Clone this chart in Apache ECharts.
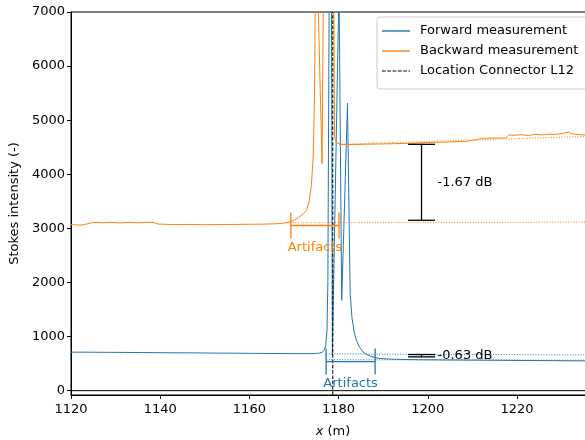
<!DOCTYPE html>
<html><head><meta charset="utf-8">
<script src="https://cdn.jsdelivr.net/npm/echarts@6/dist/echarts.min.js"></script>
<style>html,body{margin:0;padding:0;background:#fff}#c{width:585px;height:440px}</style>
</head><body><div id="c"></div>
<script>
// ---- data ----
const xTicks = [1120, 1140, 1160, 1180, 1200, 1220];
const yTicks = [0, 1000, 2000, 3000, 4000, 5000, 6000, 7000];

const forwardX = [1120, 1124, 1128, 1132, 1136, 1140, 1144, 1148, 1152, 1156, 1160, 1164, 1168, 1172, 1174, 1175.5, 1176.3, 1176.8, 1177.1, 1177.4, 1177.6, 1177.9, 1178.4, 1178.6, 1180.1, 1180.4, 1180.7, 1182.0, 1182.6, 1183.0, 1183.5, 1184.0, 1184.7, 1185.5, 1186.3, 1187.5, 1189, 1191, 1194, 1198, 1204, 1210, 1216, 1222, 1228, 1234, 1237.5];
const forwardY = [712, 711, 709, 707, 705, 702, 700, 698, 695, 693, 690, 688, 686, 684, 685, 692, 710, 750, 830, 1100, 2000, 7500, 7500, 650, 7500, 7500, 1670, 5310, 1800, 1350, 1080, 930, 805, 715, 670, 625, 598, 585, 578, 572, 568, 565, 562, 558, 555, 550, 548];

const backwardX = [1120, 1121, 1122, 1123, 1124, 1125, 1127, 1129, 1131, 1133, 1135, 1137, 1138.5, 1139.5, 1141, 1144, 1147, 1150, 1153, 1156, 1159, 1162, 1164, 1166, 1167.5, 1169, 1170, 1171, 1172, 1172.8, 1173.4, 1173.9, 1174.3, 1174.6, 1174.8, 1175.3, 1176.3, 1176.6, 1178.9, 1179.1, 1179.5, 1180.2, 1181, 1183, 1186, 1189, 1192, 1195, 1198, 1201, 1204, 1207, 1209, 1211, 1212, 1214, 1216, 1217.5, 1218.2, 1219.5, 1221, 1222.5, 1224, 1225.5, 1227, 1228.5, 1230, 1231.6, 1232.5, 1234, 1235.5, 1237.5];
const backwardY = [3070, 3065, 3060, 3070, 3090, 3110, 3105, 3110, 3100, 3110, 3105, 3110, 3110, 3080, 3075, 3070, 3072, 3068, 3070, 3072, 3075, 3078, 3080, 3085, 3095, 3120, 3150, 3200, 3260, 3330, 3500, 3800, 4300, 5400, 7500, 7500, 4200, 7500, 7500, 4700, 4590, 4560, 4550, 4550, 4555, 4560, 4565, 4570, 4580, 4590, 4595, 4605, 4615, 4640, 4665, 4668, 4670, 4672, 4727, 4722, 4732, 4718, 4738, 4728, 4742, 4736, 4748, 4785, 4745, 4732, 4722, 4722];

const connectorX = 1178.7;

const backwardFitBeforeX = [1168.5, 1237.5];
const backwardFitBeforeY = [3103, 3116];
const backwardFitAfterX = [1180.1, 1237.5];
const backwardFitAfterY = [4555, 4705];
const forwardFitBeforeX = [1177.2, 1237.5];
const forwardFitBeforeY = [680, 660];
const forwardFitAfterX = [1177.2, 1237.5];
const forwardFitAfterY = [572, 562];

// artifacts brackets: [xStart, xEnd, y]
const artifactsBackward = [1169.3, 1180.1, 3053];
const artifactsForward = [1177.2, 1188.2, 537];
const artifactsLabel = 'Artifacts';

// loss error bars: [x, yLow, yHigh]
const lossBackward = [1198.6, 3150, 4554];
const lossForward = [1198.6, 625, 668];
const lossBackwardLabel = '-1.67 dB';
const lossForwardLabel = '-0.63 dB';

// ---- chart ----
const FONT = 'DejaVu Sans';
const BLUE = '#1f77b4', ORANGE = '#ff7f0e';
const zip = (a, b) => a.map((v, i) => [v, b[i]]);

function bracketSeries(vals, color, label) {
  return {
    type: 'custom', silent: true, z: 4,
    encode: { x: [0, 1], y: 2 },
    data: [vals],
    renderItem: (params, api) => {
      const p1 = api.coord([api.value(0), api.value(2)]);
      const p2 = api.coord([api.value(1), api.value(2)]);
      const st = { stroke: color, lineWidth: 1.3 };
      return { type: 'group', children: [
        { type: 'line', shape: { x1: p1[0], y1: p1[1], x2: p2[0], y2: p2[1] }, style: st },
        { type: 'line', shape: { x1: p1[0], y1: p1[1] - 13, x2: p1[0], y2: p1[1] + 13 }, style: st },
        { type: 'line', shape: { x1: p2[0], y1: p2[1] - 13, x2: p2[0], y2: p2[1] + 13 }, style: st },
        { type: 'text', x: (p1[0] + p2[0]) / 2, y: p1[1] + 22,
          style: { text: label, fill: color, fontSize: 13, fontFamily: FONT, align: 'center', verticalAlign: 'middle' } }
      ]};
    }
  };
}
function errorbarSeries(vals, label) {
  return {
    type: 'custom', silent: true, z: 4,
    encode: { x: 0, y: [1, 2] },
    data: [vals],
    renderItem: (params, api) => {
      const p1 = api.coord([api.value(0), api.value(1)]);
      const p2 = api.coord([api.value(0), api.value(2)]);
      const st = { stroke: '#000', lineWidth: 1.3 };
      return { type: 'group', children: [
        { type: 'line', shape: { x1: p1[0], y1: p1[1], x2: p2[0], y2: p2[1] }, style: st },
        { type: 'line', shape: { x1: p1[0] - 13.5, y1: p1[1], x2: p1[0] + 13.5, y2: p1[1] }, style: st },
        { type: 'line', shape: { x1: p2[0] - 13.5, y1: p2[1], x2: p2[0] + 13.5, y2: p2[1] }, style: st },
        { type: 'text', x: p1[0] + 16, y: (p1[1] + p2[1]) / 2,
          style: { text: label, fill: '#000', fontSize: 13, fontFamily: FONT, align: 'left', verticalAlign: 'middle' } }
      ]};
    }
  };
}
function lineSeries(name, data, color, width, type, z) {
  return {
    name, type: 'line', data, symbol: 'none', showSymbol: false, silent: true,
    lineStyle: { color, width, type: type || 'solid' }, itemStyle: { color }, z: z || 2
  };
}

const solidIcon = 'path://M0,0h28v1.4h-28z';
const dashIcon = 'path://M0,0h3.7v1.2h-3.7z M5.3,0h3.7v1.2h-3.7z M10.6,0h3.7v1.2h-3.7z M15.9,0h3.7v1.2h-3.7z M21.2,0h3.7v1.2h-3.7z M26.5,0h1.5v1.2h-1.5z';

const chart = echarts.init(document.getElementById('c'), null, { renderer: 'canvas' });
chart.setOption({
  animation: false,
  backgroundColor: '#fff',
  textStyle: { fontFamily: FONT },
  grid: { left: 71, top: 12, width: 524, height: 383, containLabel: false, outerBoundsMode: 'none',
          show: true, borderColor: '#000', borderWidth: 1, backgroundColor: 'transparent' },
  legend: {
    data: [
      { name: 'Forward measurement', icon: solidIcon },
      { name: 'Backward measurement', icon: solidIcon },
      { name: 'Location Connector L12', icon: dashIcon }
    ],
    orient: 'vertical', left: 377, top: 17,
    itemWidth: 28, itemHeight: 1.4, itemGap: 6,
    padding: [7, 10, 11, 5],
    backgroundColor: 'rgba(255,255,255,0.85)', borderColor: '#cccccc', borderWidth: 1, borderRadius: 3,
    selectedMode: false,
    textStyle: { fontSize: 13, fontFamily: FONT, color: '#000', lineHeight: 14, padding: [0, 0, 0, 5] }
  },
  xAxis: {
    type: 'value', min: 1120, max: 1237.5,
    name: '{i|x} (m)', nameLocation: 'middle', nameGap: 30,
    nameTextStyle: { fontSize: 13, fontFamily: FONT, color: '#000', rich: { i: { fontStyle: 'italic', fontSize: 13, fontFamily: FONT, color: '#000' } } },
    axisLine: { show: true, onZero: false, lineStyle: { color: '#000', width: 1 } },
    axisTick: { show: true, length: 4, lineStyle: { color: '#000' }, customValues: xTicks },
    axisLabel: { fontSize: 13, fontFamily: FONT, color: '#000', margin: 8, customValues: xTicks, formatter: v => String(v) },
    splitLine: { show: false }
  },
  yAxis: {
    type: 'value', min: -80, max: 7000,
    name: 'Stokes intensity (-)', nameLocation: 'middle', nameGap: 44,
    nameTextStyle: { fontSize: 13, fontFamily: FONT, color: '#000' },
    axisLine: { show: true, onZero: false, lineStyle: { color: '#000', width: 1 } },
    axisTick: { show: true, length: 4, lineStyle: { color: '#000' }, customValues: yTicks },
    axisLabel: { fontSize: 13, fontFamily: FONT, color: '#000', margin: 6, customValues: yTicks, formatter: v => String(v) },
    splitLine: { show: false }
  },
  series: [
    lineSeries('zero', [[1120, 0], [1237.5, 0]], '#000', 1, 'solid', 1),
    lineSeries('Forward measurement', zip(forwardX, forwardY), BLUE, 1),
    lineSeries('Backward measurement', zip(backwardX, backwardY), ORANGE, 1),
    lineSeries('bfb', zip(backwardFitBeforeX, backwardFitBeforeY), ORANGE, 1, [1, 1.65]),
    lineSeries('bfa', zip(backwardFitAfterX, backwardFitAfterY), ORANGE, 1, [1, 1.65]),
    lineSeries('ffb', zip(forwardFitBeforeX, forwardFitBeforeY), BLUE, 1, [1, 1.65]),
    lineSeries('ffa', zip(forwardFitAfterX, forwardFitAfterY), BLUE, 1, [1, 1.65]),
    lineSeries('Location Connector L12', [[connectorX, -80], [connectorX, 7000]], '#000', 1, [3.7, 1.6], 3),
    bracketSeries(artifactsBackward, ORANGE, artifactsLabel),
    bracketSeries(artifactsForward, BLUE, artifactsLabel),
    errorbarSeries(lossBackward, lossBackwardLabel),
    errorbarSeries(lossForward, lossForwardLabel)
  ]
});
</script></body></html>
